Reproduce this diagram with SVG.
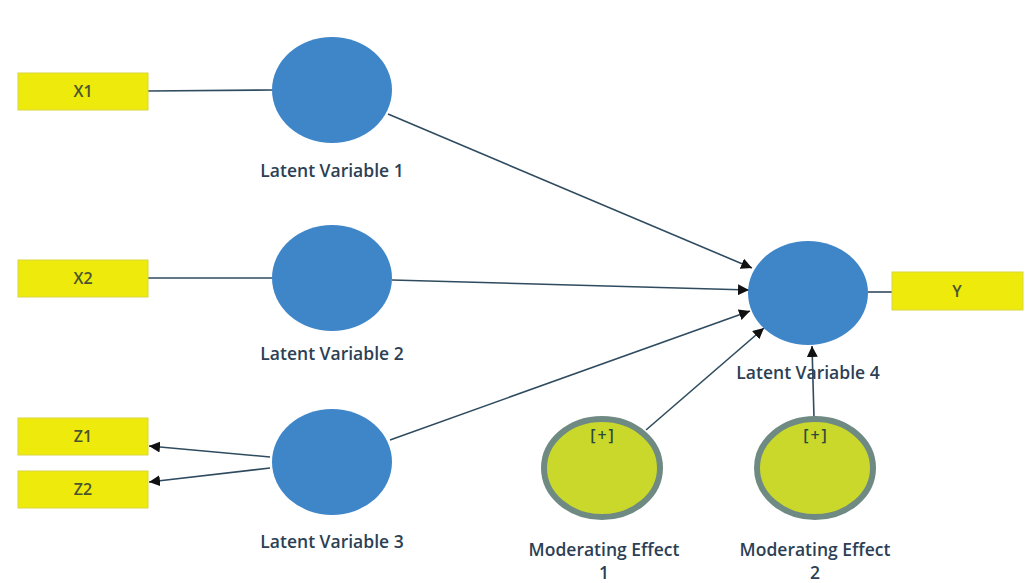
<svg xmlns="http://www.w3.org/2000/svg" width="1027" height="583" viewBox="0 0 1027 583">
<style>
.ind{fill:#eeea0c;stroke:#d8d640;stroke-width:1}
.lv{fill:#3f86c9}
.me{fill:#c9d82b;stroke:#6f8a82;stroke-width:6}
.t{font-family:"Open Sans","Noto Sans",sans-serif;font-size:17.5px;font-weight:600;fill:#2c3f55;text-anchor:middle}
.bt{font-family:"Open Sans","Noto Sans",sans-serif;font-size:16px;font-weight:600;fill:#4a5530;text-anchor:middle}
.pl{font-family:"Open Sans","Noto Sans",sans-serif;font-size:16px;font-weight:600;fill:#2a4a3a;text-anchor:middle;letter-spacing:2px}
.c{stroke:#2f4b5f;stroke-width:1.6;fill:none}
</style>
<defs>
<marker id="ah" viewBox="0 0 10 10" refX="10" refY="5" markerWidth="11" markerHeight="11" orient="auto" markerUnits="userSpaceOnUse">
<path d="M0,0 L10,5 L0,10 z" fill="#111"/>
</marker>
</defs>
<rect width="1027" height="583" fill="#ffffff"/>
<g id="connectors">
<line class="c" x1="148" y1="91" x2="273" y2="90"/>
<line class="c" x1="148" y1="278" x2="273" y2="278"/>
<line class="c" x1="270" y1="457" x2="149" y2="446" marker-end="url(#ah)"/>
<line class="c" x1="270" y1="468" x2="149" y2="482" marker-end="url(#ah)"/>
<line class="c" x1="388" y1="114" x2="752" y2="268" marker-end="url(#ah)"/>
<line class="c" x1="392" y1="280" x2="749" y2="290" marker-end="url(#ah)"/>
<line class="c" x1="390" y1="440" x2="750" y2="311" marker-end="url(#ah)"/>
<line class="c" x1="646" y1="430" x2="764" y2="328" marker-end="url(#ah)"/>
<line class="c" x1="814" y1="418" x2="812" y2="346" marker-end="url(#ah)"/>
<line class="c" x1="868" y1="292" x2="892" y2="292"/>
</g>
<g id="X1"><rect class="ind" x="18" y="73" width="130" height="37"/><text class="bt" x="83" y="97">X1</text></g>
<g id="X2"><rect class="ind" x="18" y="260" width="130" height="37"/><text class="bt" x="83" y="284">X2</text></g>
<g id="Z1"><rect class="ind" x="18" y="418" width="130" height="37"/><text class="bt" x="83" y="442">Z1</text></g>
<g id="Z2"><rect class="ind" x="18" y="471" width="130" height="37"/><text class="bt" x="83" y="495">Z2</text></g>
<g id="Y"><rect class="ind" x="892" y="272" width="131" height="38"/><text class="bt" x="957" y="297">Y</text></g>
<g id="LV1"><ellipse class="lv" cx="332" cy="90" rx="60" ry="53"/><text class="t" x="332" y="177">Latent Variable 1</text></g>
<g id="LV2"><ellipse class="lv" cx="332" cy="278" rx="60" ry="53"/><text class="t" x="332" y="360">Latent Variable 2</text></g>
<g id="LV3"><ellipse class="lv" cx="332" cy="462" rx="60" ry="53"/><text class="t" x="332" y="548">Latent Variable 3</text></g>
<g id="LV4"><ellipse class="lv" cx="808" cy="293" rx="60" ry="52"/><text class="t" x="808" y="379">Latent Variable 4</text></g>
<g id="ME1"><ellipse class="me" cx="602" cy="468" rx="58" ry="49"/><text class="pl" x="603" y="441">[+]</text><text class="t" x="604" y="556">Moderating Effect</text><text class="t" x="604" y="579">1</text></g>
<g id="ME2"><ellipse class="me" cx="815" cy="468" rx="58" ry="49"/><text class="pl" x="816" y="441">[+]</text><text class="t" x="815" y="556">Moderating Effect</text><text class="t" x="815" y="579">2</text></g>
</svg>
